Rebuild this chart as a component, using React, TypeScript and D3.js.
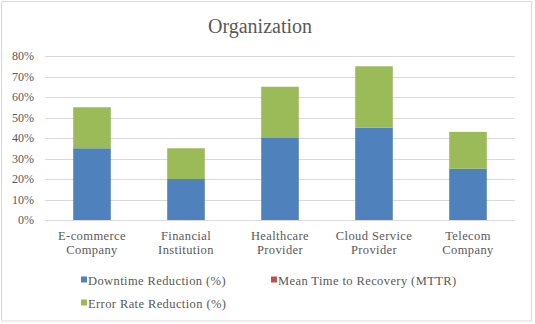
import React from "react";
import * as d3 from "d3";

const categories = [
  ["E-commerce", "Company"],
  ["Financial", "Institution"],
  ["Healthcare", "Provider"],
  ["Cloud Service", "Provider"],
  ["Telecom", "Company"],
];
const seriesNames = [
  "Downtime Reduction (%)",
  "Mean Time to Recovery (MTTR)",
  "Error Rate Reduction (%)",
];
const downtime = [0.35, 0.2, 0.4, 0.45, 0.25];
const mttr = [0, 0, 0, 0, 0];
const errorRate = [0.2, 0.15, 0.25, 0.3, 0.18];
const colors = ["#4f81bd", "#c0504d", "#9bbb59"];
const yTicks = [0, 0.1, 0.2, 0.3, 0.4, 0.5, 0.6, 0.7, 0.8];

export default function App() {
  const W = 535, H = 324;
  const left = 45, right = 515, top = 56, bottom = 220;
  const x = d3.scaleBand<number>().domain(d3.range(categories.length)).range([left, right]).paddingInner(0.6).paddingOuter(0.3);
  const y = d3.scaleLinear().domain([0, 0.8]).range([bottom, top]);
  const rows = categories.map((_, i) => ({ i, d: downtime[i], m: mttr[i], e: errorRate[i] }));
  const stack = d3.stack<any>().keys(["d", "m", "e"])(rows);
  const font = "Liberation Serif, DejaVu Serif, serif";
  const fmt = d3.format(".0%");
  return (
    <svg width={W} height={H} style={{ position: "absolute", left: 0, top: 0, fontFamily: font }}>
      <rect x={0} y={0} width={W} height={H} fill="#fff" />
      <rect x={1.5} y={1.5} width={530} height={319.5} fill="#fff" stroke="#d9d9d9" strokeWidth={1} />
      <text x={260} y={33} textAnchor="middle" fontSize={20} fill="#595959" style={{ fontFamily: font }}>Organization</text>
      {yTicks.map((t) => (
        <g key={t}>
          <line x1={left} x2={right} y1={Math.round(y(t)) + 0.5} y2={Math.round(y(t)) + 0.5} stroke="#d9d9d9" strokeWidth={1} />
          <text x={34} y={y(t) + 4} textAnchor="end" fontSize={12} fill="#595959" style={{ fontFamily: font }}>{fmt(t)}</text>
        </g>
      ))}
      {stack.map((s, si) => (
        <g key={si} fill={colors[si]}>
          {s.map((p, i) => (
            <rect key={i} x={x(i)} width={x.bandwidth()} y={y(p[1])} height={Math.max(0, y(p[0]) - y(p[1]))} />
          ))}
        </g>
      ))}
      {categories.map((c, i) => (
        <text key={i} textAnchor="middle" fontSize={12.5} fill="#595959" letterSpacing={0.4} style={{ fontFamily: font }}>
          <tspan x={(x(i) as number) + x.bandwidth() / 2} y={240}>{c[0]}</tspan>
          <tspan x={(x(i) as number) + x.bandwidth() / 2} y={254}>{c[1]}</tspan>
        </text>
      ))}
      {seriesNames.map((n, i) => {
        const lx = i === 1 ? 271 : 81;
        const ly = i === 2 ? 303 : 280;
        return (
          <g key={n}>
            <rect x={lx} y={ly - 3.5} width={6} height={6} fill={colors[i]} />
            <text x={lx + 7} y={ly + 4.5} fontSize={12.5} fill="#595959" letterSpacing={0.4} style={{ fontFamily: font }}>{n}</text>
          </g>
        );
      })}
    </svg>
  );
}
